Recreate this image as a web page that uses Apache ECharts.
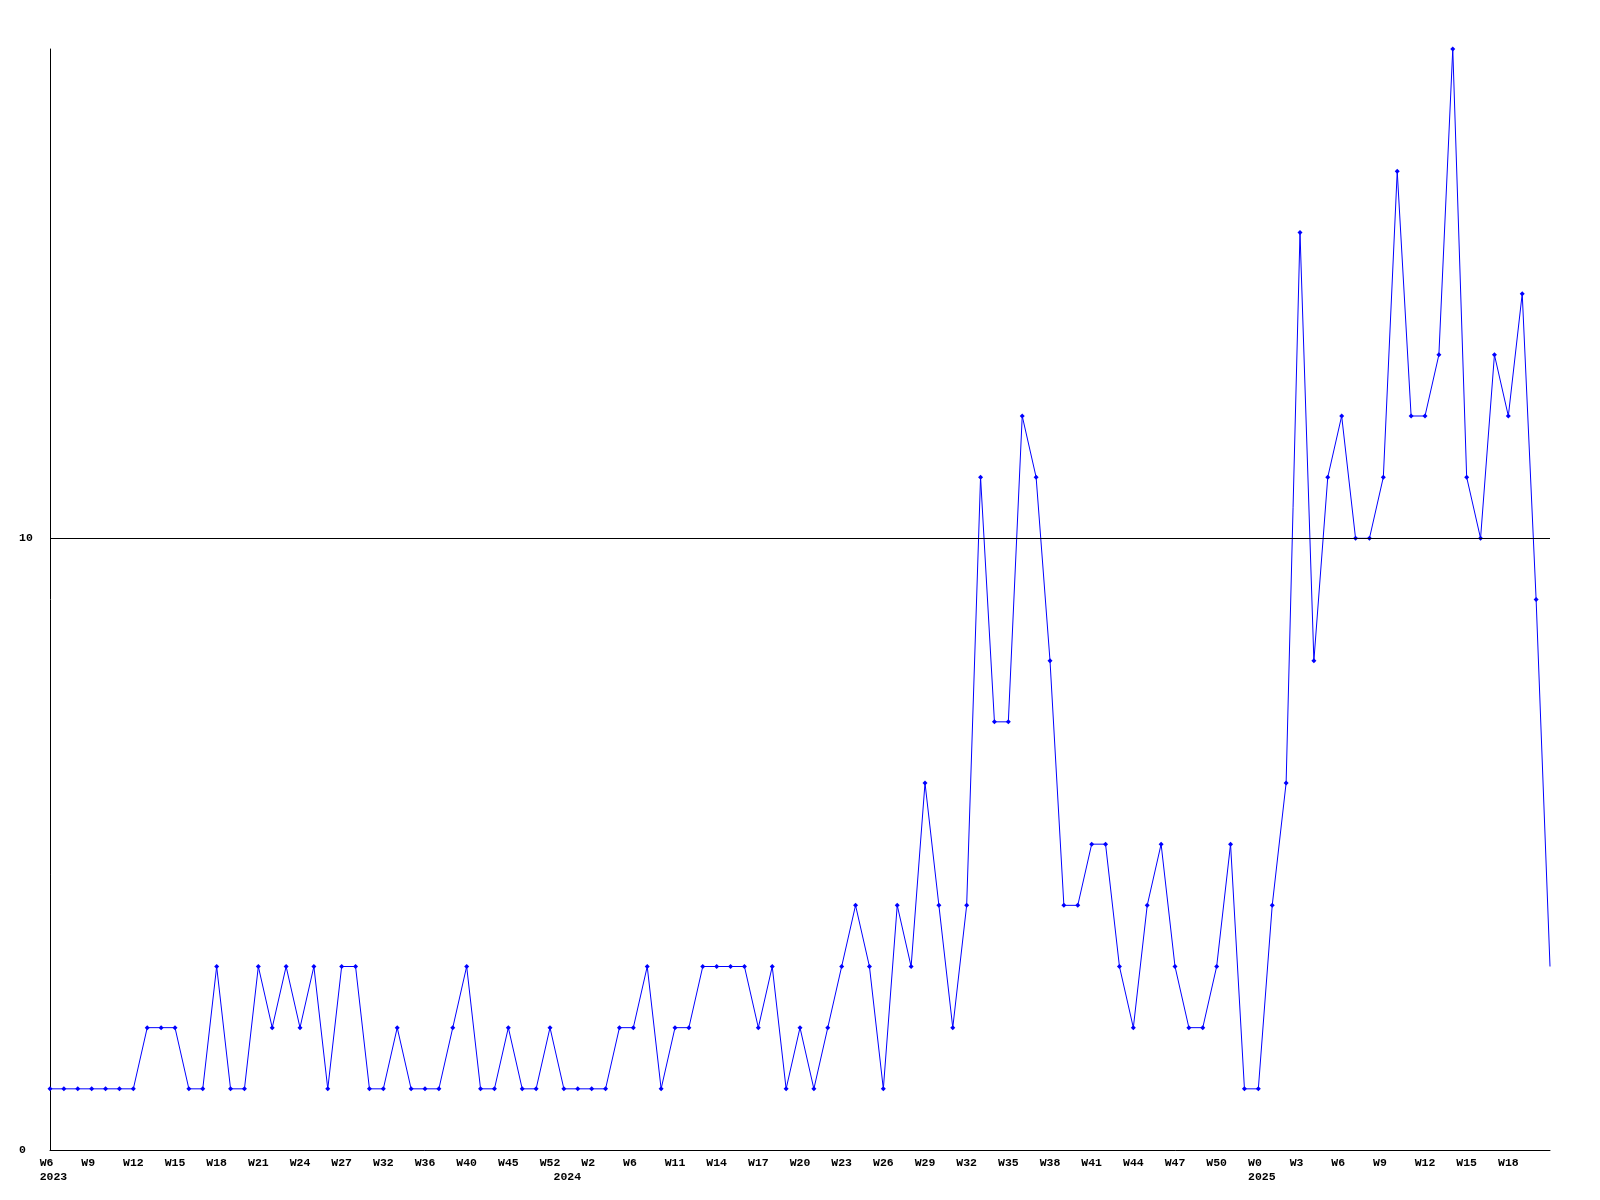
<!DOCTYPE html>
<html>
<head>
<meta charset="utf-8">
<script src="https://cdn.jsdelivr.net/npm/echarts@6/dist/echarts.min.js"></script>
<style>
html,body{margin:0;padding:0;background:#fff;}
#chart{width:1600px;height:1200px;}
</style>
</head>
<body>
<div id="chart"></div>
<script>
var weeks2023 = ['W6','W7','W8','W9','W10','W11','W12','W13','W14','W15','W16','W17','W18','W19','W20','W21','W22','W23','W24','W25','W26','W27','W28','W30','W32','W33','W35','W36','W37','W39','W40','W42','W44','W45','W47','W50','W52'];
var weeks2024 = ['W0','W1','W2','W3','W5','W6','W7','W9','W11','W12','W13','W14','W15','W16','W17','W18','W19','W20','W21','W22','W23','W24','W25','W26','W27','W28','W29','W30','W31','W32','W33','W34','W35','W36','W37','W38','W39','W40','W41','W42','W43','W44','W45','W46','W47','W48','W49','W50','W51','W52'];
var weeks2025 = ['W0','W1','W2','W3','W4','W5','W6','W7','W8','W9','W10','W11','W12','W13','W14','W15','W16','W17','W18','W19','W20','W21'];
var years = ['2023','2024','2025'];

var values2023 = [1,1,1,1,1,1,1,2,2,2,1,1,3,1,1,3,2,3,2,3,1,3,3,1,1,2,1,1,1,2,3,1,1,2,1,1,2];
var values2024 = [1,1,1,1,2,2,3,1,2,2,3,3,3,3,2,3,1,2,1,2,3,4,3,1,4,3,6,4,2,4,11,7,7,12,11,8,4,4,5,5,3,2,4,5,3,2,2,3,5,1];
var values2025 = [1,4,6,15,8,11,12,10,10,11,16,12,12,13,18,11,10,13,12,14,9,3];

var categories = [];
var yearStart = {};
[weeks2023, weeks2024, weeks2025].forEach(function (wk, yi) {
  yearStart[categories.length] = years[yi];
  wk.forEach(function (w) { categories.push(years[yi] + '|' + w); });
});
var values = values2023.concat(values2024, values2025);
var lastIdx = values.length - 1;

var font = { fontFamily: 'Liberation Mono', fontWeight: 'bold', fontSize: 11.5, color: '#000' };

var chart = echarts.init(document.getElementById('chart'), null, { renderer: 'canvas' });
chart.setOption({
  animation: false,
  backgroundColor: '#fff',
  grid: { left: 50, right: 50, top: 49, bottom: 50 },
  xAxis: [{
    type: 'category',
    data: categories,
    boundaryGap: false,
    axisLine: { show: true, lineStyle: { color: '#000', width: 1 } },
    axisTick: { show: false },
    splitLine: { show: false },
    axisLabel: Object.assign({
      interval: function (idx) { return idx % 3 === 0 && idx < lastIdx; },
      margin: 7,
      formatter: function (v) {
        var w = v.split('|')[1];
        while (w.length < 3) w += ' ';
        return w;
      }
    }, font)
  }, {
    type: 'category',
    data: categories,
    boundaryGap: false,
    position: 'bottom',
    offset: 14,
    axisLine: { show: false },
    axisTick: { show: false },
    splitLine: { show: false },
    axisLabel: Object.assign({
      interval: function (idx) { return yearStart[idx] !== undefined; },
      margin: 7,
      formatter: function (v) { return ' ' + v.split('|')[0]; }
    }, font)
  }],
  yAxis: {
    type: 'value',
    min: 0,
    max: 18,
    interval: 10,
    axisLine: { show: true, lineStyle: { color: '#000', width: 1 } },
    axisTick: { show: false },
    splitLine: { show: false },
    axisLabel: Object.assign({
      align: 'left',
      margin: 31,
      showMaxLabel: false
    }, font)
  },
  series: [{
    type: 'line',
    data: values,
    showAllSymbol: true,
    symbol: function (v, p) { return p.dataIndex === lastIdx ? 'none' : 'diamond'; },
    symbolSize: 5,
    lineStyle: { color: '#0000ff', width: 1 },
    itemStyle: { color: '#0000ff' },
    markLine: {
      silent: true,
      symbol: ['none', 'none'],
      label: { show: false },
      lineStyle: { color: '#000', width: 1, type: 'solid' },
      data: [{ yAxis: 10 }]
    }
  }]
});
</script>
</body>
</html>
